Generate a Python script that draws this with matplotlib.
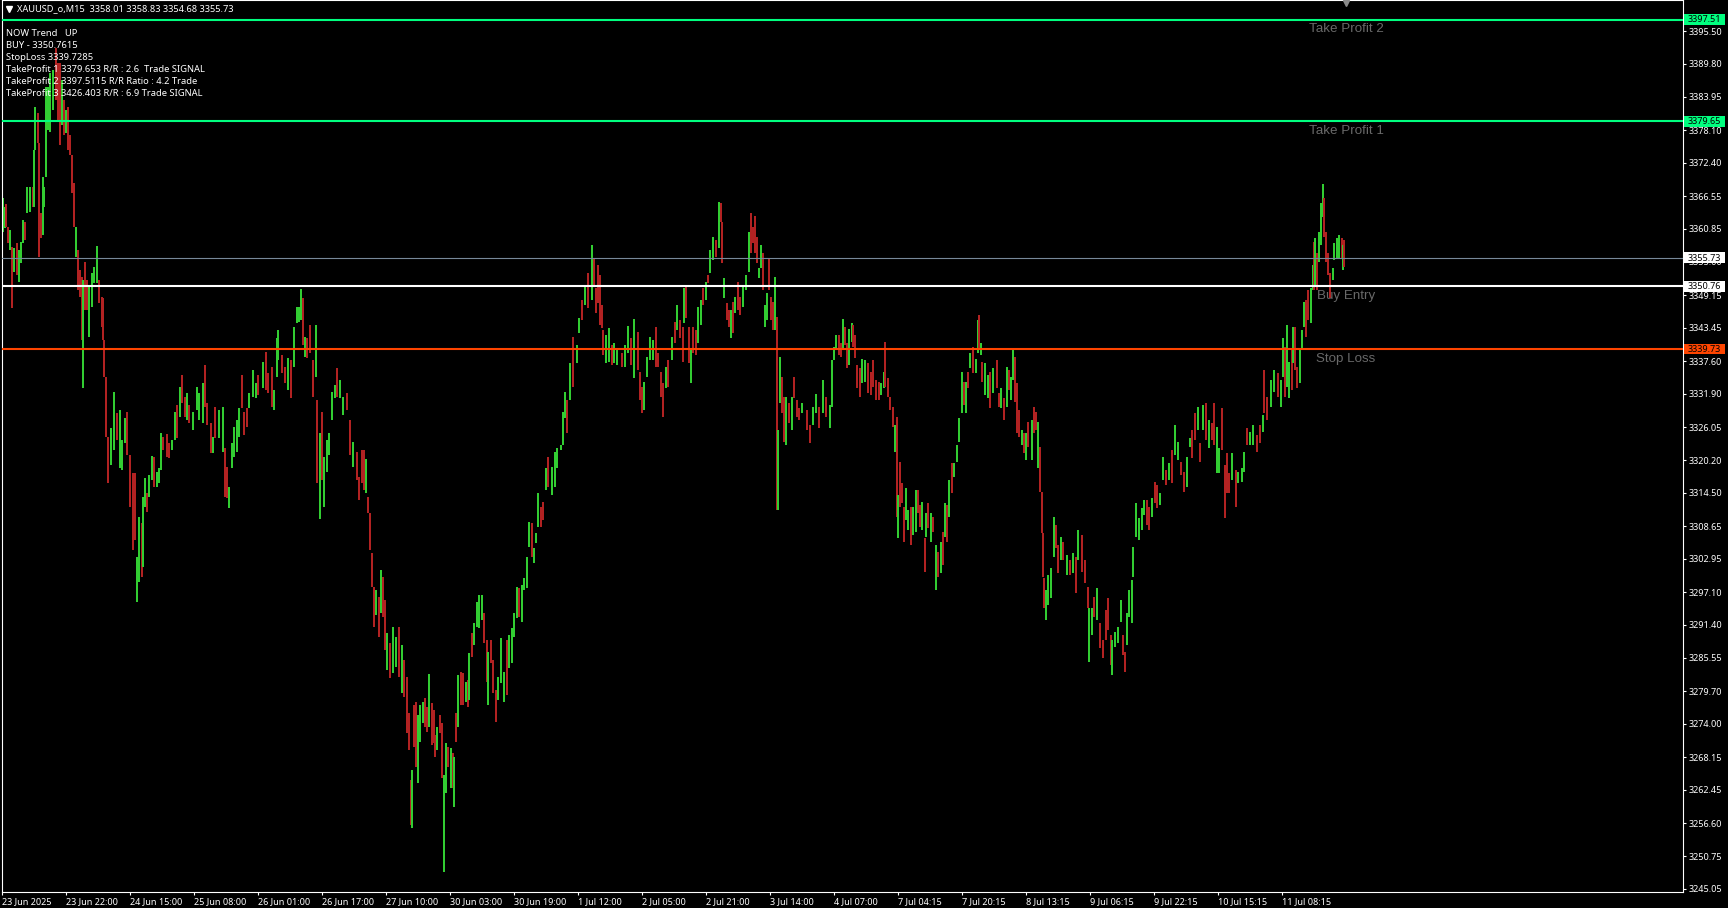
import matplotlib
matplotlib.use("Agg")
from matplotlib import pyplot as plt
from matplotlib.patches import Rectangle

plt.rcParams["font.family"] = ["Noto Sans", "DejaVu Sans"]

# bar number counted from the left edge of the chart (M15 bars)
bar_no = [
    1, 3, 4, 6, 8, 10, 12, 15, 17, 19, 21, 23, 25, 28, 31, 32, 33, 36, 37, 39,
    41, 42, 44, 46, 48, 51, 54, 56, 58, 60, 62, 64, 66, 68, 70, 72, 74, 76, 78, 80,
    81, 83, 85, 87, 90, 92, 95, 97, 100, 101, 102, 104, 106, 109, 112, 115, 118, 120, 123, 125,
    128, 131, 133, 135, 137, 140, 141, 143, 145, 147, 150, 152, 155, 157, 159, 161, 165, 167, 170, 173,
    175, 178, 180, 183, 185, 187, 191, 195, 197, 201, 203, 205, 209, 211, 213, 217, 221, 223, 225, 227,
    230, 232, 235, 237, 240, 242, 245, 247, 251, 254, 256, 261, 264, 266, 270, 272, 275, 276, 280, 283,
    286, 289, 292, 295, 297, 299, 301, 303, 305, 308, 311, 314, 315, 318, 320, 322, 325, 327, 330, 333,
    335, 338, 341, 345, 348, 351, 355, 357, 360, 362, 364, 366, 368, 370, 372, 374, 377, 379, 381, 383,
    385, 388, 391, 394, 397, 400, 402, 405, 407, 409, 410, 412, 414, 416, 418, 421, 423, 425, 427, 430,
    432, 433, 435, 438, 440, 442, 444, 446, 449, 451, 452, 454, 456, 459, 461, 464, 466, 467, 470, 472,
    475, 477, 480, 482, 485, 486, 489, 491, 494, 496, 499, 502, 505, 507, 510, 512, 515, 517, 520, 522,
    525, 527, 530, 532, 534, 536, 539, 541, 544, 546, 550, 553, 555, 559, 561, 563, 565, 568, 571, 575,
    577, 580, 583, 586, 590, 592, 594, 596, 598, 600, 601, 604, 607, 610, 612, 615, 620, 623, 626, 629,
    632, 636, 638, 640, 642, 645, 648, 651, 654, 656, 659, 661, 664, 666, 670, 673, 675, 678, 681, 682,
    684, 687, 689, 691, 694, 696, 699, 701, 704, 706, 708, 711, 714, 717, 719, 720, 722, 725, 727, 729,
    731, 733, 736, 738, 741, 744, 747, 749, 751, 753, 755, 757, 759, 761, 763, 765, 767, 769, 771, 773,
    775, 776, 778, 780, 782, 784, 787, 790, 792, 795, 797, 800, 805, 808, 811, 814, 817, 821, 824, 828,
    830, 832, 834, 837, 839, 841, 843, 845, 847, 850, 851, 853, 855, 858, 860, 863, 866, 869, 871, 874,
    877, 879, 882, 883, 886, 888, 891, 893, 895, 896, 898, 900, 902, 904, 906, 909, 911, 914, 916, 918,
    920, 923, 924, 926, 929, 931, 934, 936, 939, 941, 943, 945, 947, 950, 952, 955, 957, 960, 962, 964,
    966, 968, 971, 974, 976, 977, 979, 980, 983, 986, 988, 991, 995, 997, 999, 1002, 1005, 1007, 1009, 1011,
    1013, 1015, 1017, 1020, 1022, 1024, 1026, 1030, 1032, 1034, 1036, 1038, 1040, 1041, 1042, 1044, 1046, 1049, 1052, 1054,
    1056, 1059, 1061, 1065, 1068, 1071, 1074, 1076, 1080, 1083, 1086, 1087, 1090, 1092, 1095, 1098, 1101, 1104, 1106, 1109,
    1110, 1113, 1116, 1119, 1121, 1123, 1125, 1127, 1130, 1131, 1134, 1137, 1140, 1142, 1145, 1147, 1150, 1153, 1155, 1158,
    1161, 1164, 1167, 1170, 1173, 1176, 1179, 1182, 1185, 1188, 1190, 1193, 1196, 1198, 1201, 1204, 1207, 1210, 1212, 1215,
    1217, 1220, 1223, 1225, 1227, 1230, 1234, 1236, 1240, 1242, 1245, 1248, 1251, 1255, 1258, 1261, 1262, 1265, 1269, 1272,
    1276, 1279, 1281, 1283, 1285, 1287, 1290, 1291, 1293, 1295, 1298, 1300, 1302, 1304, 1306, 1309, 1311, 1312, 1313, 1315,
    1317, 1319, 1321, 1322, 1324, 1326, 1328, 1331, 1332, 1335, 1337, 1340, 1341, 1342,
]

highs = [
    3366.2, 3364.6, 3365.2, 3361.1, 3360.6, 3357.6, 3357.4, 3358.3, 3357.1, 3358.5, 3362.4, 3362.0, 3368.1, 3368.1, 3368.1, 3374.6, 3382.2, 3381.1, 3375.9, 3363.6,
    3369.9, 3368.1, 3385.7, 3385.7, 3388.1, 3388.7, 3392.5, 3389.9, 3389.9, 3386.9, 3383.4, 3381.7, 3382.2, 3377.3, 3373.7, 3368.8, 3361.1, 3357.1, 3353.6, 3352.4,
    3351.8, 3355.0, 3351.8, 3350.6, 3353.0, 3354.1, 3357.8, 3351.8, 3348.8, 3348.6, 3341.3, 3334.8, 3324.3, 3325.9, 3332.2, 3328.5, 3329.0, 3323.8, 3327.6, 3328.7,
    3321.1, 3318.0, 3318.0, 3303.3, 3310.3, 3309.2, 3313.8, 3317.1, 3314.5, 3317.6, 3321.0, 3320.8, 3318.2, 3318.9, 3325.0, 3324.3, 3324.8, 3323.2, 3323.8, 3328.7,
    3329.9, 3333.1, 3335.2, 3331.3, 3332.0, 3329.9, 3328.7, 3333.1, 3332.0, 3333.8, 3336.9, 3330.2, 3326.7, 3324.3, 3329.6, 3329.0, 3329.6, 3322.4, 3319.0, 3315.5,
    3323.2, 3326.0, 3327.3, 3329.4, 3335.2, 3328.7, 3329.4, 3332.0, 3336.0, 3333.8, 3335.2, 3337.4, 3339.2, 3335.5, 3336.6, 3332.5, 3341.6, 3343.1, 3338.7, 3336.6,
    3338.1, 3337.8, 3343.6, 3347.1, 3347.1, 3350.2, 3348.6, 3341.8, 3341.6, 3343.9, 3337.8, 3343.9, 3330.8, 3325.0, 3328.7, 3320.8, 3323.8, 3325.0, 3332.2, 3333.4,
    3336.4, 3334.3, 3331.3, 3332.0, 3327.3, 3323.4, 3321.7, 3317.3, 3322.0, 3322.0, 3320.4, 3313.8, 3311.0, 3304.0, 3298.0, 3297.5, 3296.2, 3301.0, 3299.8, 3295.7,
    3289.9, 3288.2, 3291.0, 3289.2, 3291.0, 3287.8, 3285.2, 3282.2, 3275.9, 3264.2, 3265.9, 3277.3, 3277.8, 3275.5, 3277.3, 3277.8, 3278.5, 3277.0, 3282.8, 3277.7,
    3276.4, 3272.1, 3273.5, 3275.5, 3274.2, 3265.0, 3270.7, 3270.0, 3269.8, 3268.9, 3268.2, 3275.9, 3282.6, 3283.1, 3282.9, 3281.3, 3281.7, 3286.4, 3289.9, 3291.7,
    3295.4, 3296.6, 3296.6, 3293.4, 3288.7, 3286.6, 3288.7, 3285.2, 3279.9, 3282.2, 3289.1, 3283.1, 3288.7, 3289.6, 3290.8, 3293.4, 3298.0, 3297.8, 3298.3, 3299.6,
    3303.3, 3309.4, 3309.2, 3304.8, 3307.5, 3314.5, 3312.0, 3312.9, 3318.9, 3320.8, 3319.0, 3321.7, 3322.4, 3322.9, 3328.7, 3332.2, 3330.8, 3337.3, 3341.8, 3340.4,
    3345.2, 3348.3, 3350.6, 3353.0, 3358.0, 3355.7, 3350.4, 3354.4, 3352.7, 3347.4, 3343.1, 3342.2, 3343.4, 3340.4, 3340.8, 3339.9, 3339.0, 3340.4, 3343.8, 3341.6,
    3345.0, 3342.7, 3335.7, 3333.1, 3333.9, 3338.3, 3341.8, 3341.3, 3343.6, 3339.0, 3335.7, 3333.8, 3336.6, 3337.8, 3341.8, 3344.5, 3347.4, 3344.8, 3343.6, 3350.4,
    3350.9, 3343.6, 3339.6, 3343.6, 3343.1, 3347.1, 3348.3, 3350.4, 3351.5, 3352.7, 3357.1, 3359.4, 3358.8, 3365.5, 3365.3, 3362.0, 3352.2, 3347.8, 3346.6, 3346.6,
    3348.0, 3348.8, 3351.5, 3348.8, 3350.6, 3352.7, 3360.2, 3363.6, 3361.1, 3363.0, 3359.4, 3353.9, 3358.0, 3356.5, 3347.4, 3349.5, 3355.7, 3348.8, 3348.0, 3352.4,
    3345.3, 3325.5, 3338.3, 3334.8, 3331.3, 3331.3, 3330.3, 3331.3, 3334.8, 3330.8, 3329.4, 3330.3, 3329.0, 3326.4, 3329.6, 3331.8, 3329.6, 3334.3, 3331.3, 3329.9,
    3337.8, 3340.1, 3342.2, 3342.2, 3340.8, 3345.0, 3343.6, 3340.8, 3343.2, 3344.3, 3343.9, 3342.2, 3336.9, 3336.4, 3338.0, 3337.8, 3337.3, 3335.7, 3337.8, 3334.3,
    3333.9, 3333.8, 3335.7, 3340.9, 3334.6, 3331.3, 3329.6, 3326.4, 3327.8, 3314.1, 3319.9, 3316.2, 3312.0, 3315.4, 3311.5, 3312.0, 3312.0, 3315.0, 3315.0, 3312.4,
    3312.9, 3306.6, 3311.0, 3312.7, 3311.0, 3310.3, 3305.4, 3304.1, 3305.9, 3307.6, 3312.7, 3312.4, 3316.8, 3319.7, 3319.7, 3322.9, 3327.6, 3335.7, 3333.9, 3333.9,
    3335.7, 3339.0, 3340.1, 3338.0, 3344.8, 3345.7, 3340.8, 3337.4, 3337.3, 3335.2, 3335.7, 3336.4, 3337.8, 3332.0, 3332.9, 3331.1, 3336.6, 3336.0, 3334.8, 3339.6,
    3338.3, 3333.8, 3329.0, 3325.5, 3325.0, 3325.0, 3326.9, 3327.3, 3329.6, 3328.7, 3326.9, 3322.5, 3314.7, 3307.5, 3299.6, 3297.5, 3300.1, 3301.3, 3310.3, 3308.9,
    3305.4, 3306.8, 3305.9, 3303.6, 3302.7, 3304.0, 3303.3, 3308.0, 3307.1, 3302.7, 3298.0, 3294.3, 3294.3, 3296.2, 3297.8, 3291.7, 3288.7, 3294.0, 3296.1, 3289.6,
    3288.7, 3290.1, 3291.0, 3295.7, 3289.6, 3286.6, 3293.4, 3297.5, 3299.2, 3305.0, 3312.7, 3310.1, 3311.8, 3313.3, 3313.3, 3312.0, 3313.6, 3316.4, 3315.9, 3314.5,
    3320.8, 3318.5, 3319.7, 3322.0, 3326.4, 3323.4, 3319.9, 3318.2, 3320.8, 3324.1, 3325.5, 3328.5, 3329.6, 3323.2, 3329.9, 3330.3, 3327.3, 3326.7, 3330.3, 3326.0,
    3322.4, 3329.4, 3319.4, 3321.5, 3318.0, 3321.5, 3318.5, 3318.2, 3318.9, 3321.7, 3325.9, 3325.2, 3326.4, 3324.6, 3326.4, 3328.1, 3336.0, 3331.3, 3334.3, 3336.0,
    3335.5, 3334.3, 3341.6, 3340.1, 3343.9, 3337.4, 3339.9, 3343.6, 3343.6, 3336.6, 3339.6, 3343.1, 3348.0, 3348.3, 3350.1, 3350.4, 3354.4, 3358.5, 3359.2, 3356.5,
    3360.2, 3365.3, 3368.6, 3366.2, 3360.2, 3356.5, 3353.0, 3353.9, 3358.3, 3359.2, 3359.7, 3359.2, 3358.0, 3358.8,
]

lows = [
    3360.3, 3360.9, 3361.1, 3358.3, 3357.1, 3346.9, 3353.2, 3352.7, 3351.5, 3354.8, 3358.3, 3358.9, 3363.6, 3363.8, 3364.6, 3364.6, 3374.6, 3375.9, 3355.9, 3359.2,
    3359.7, 3364.6, 3369.9, 3378.1, 3377.8, 3381.7, 3383.4, 3379.9, 3375.5, 3379.0, 3377.3, 3377.6, 3374.6, 3373.7, 3367.1, 3361.1, 3355.9, 3350.1, 3348.8, 3341.3,
    3332.9, 3346.6, 3346.6, 3341.8, 3347.1, 3351.3, 3351.3, 3347.8, 3343.6, 3341.3, 3334.8, 3324.3, 3316.2, 3319.4, 3322.0, 3323.8, 3318.9, 3318.5, 3323.2, 3321.1,
    3312.0, 3304.5, 3306.2, 3295.4, 3298.9, 3299.8, 3301.5, 3312.0, 3311.2, 3313.8, 3316.8, 3315.5, 3315.5, 3316.2, 3318.5, 3322.0, 3320.8, 3320.6, 3322.0, 3323.8,
    3324.1, 3327.8, 3330.2, 3327.8, 3327.3, 3326.7, 3325.5, 3329.0, 3327.3, 3326.7, 3329.6, 3326.4, 3321.5, 3321.5, 3324.1, 3324.1, 3321.7, 3313.8, 3313.6, 3311.8,
    3318.9, 3320.8, 3321.7, 3324.3, 3329.4, 3324.6, 3326.0, 3329.4, 3331.3, 3331.1, 3331.6, 3332.9, 3332.5, 3332.0, 3329.6, 3329.0, 3334.8, 3337.8, 3335.5, 3333.8,
    3332.5, 3331.1, 3336.6, 3344.3, 3344.5, 3344.8, 3340.4, 3338.3, 3338.1, 3339.0, 3331.3, 3334.8, 3316.2, 3309.9, 3316.8, 3312.0, 3318.2, 3321.1, 3327.3, 3331.1,
    3331.3, 3331.1, 3328.2, 3329.0, 3321.1, 3319.0, 3316.8, 3313.3, 3316.2, 3315.0, 3314.5, 3311.0, 3304.5, 3298.0, 3291.0, 3293.1, 3289.2, 3293.4, 3292.7, 3287.0,
    3283.4, 3282.0, 3282.9, 3284.0, 3282.2, 3279.4, 3278.7, 3272.4, 3269.4, 3256.3, 3255.8, 3270.0, 3266.4, 3263.6, 3270.8, 3274.2, 3273.5, 3272.6, 3273.5, 3270.3,
    3270.7, 3268.2, 3269.4, 3272.4, 3264.5, 3248.0, 3261.9, 3266.4, 3262.8, 3262.8, 3259.4, 3270.8, 3273.5, 3277.3, 3277.3, 3277.8, 3277.0, 3278.2, 3285.7, 3287.8,
    3291.0, 3290.8, 3292.2, 3288.2, 3281.3, 3277.3, 3284.7, 3279.4, 3274.3, 3278.2, 3281.2, 3277.8, 3279.1, 3283.8, 3284.7, 3289.2, 3292.6, 3292.7, 3291.9, 3297.5,
    3297.8, 3305.0, 3303.3, 3302.2, 3305.7, 3308.5, 3308.5, 3309.7, 3315.0, 3315.5, 3314.1, 3315.5, 3318.9, 3322.0, 3322.9, 3327.6, 3325.0, 3330.8, 3333.1, 3337.3,
    3342.5, 3344.8, 3347.4, 3346.9, 3348.3, 3350.6, 3346.0, 3347.8, 3343.9, 3343.4, 3338.7, 3337.3, 3337.4, 3336.9, 3337.3, 3336.9, 3336.6, 3336.6, 3339.0, 3336.9,
    3334.6, 3336.0, 3330.8, 3328.5, 3329.0, 3334.8, 3337.8, 3337.8, 3336.6, 3336.6, 3331.3, 3327.8, 3332.9, 3333.1, 3337.8, 3340.8, 3343.0, 3341.6, 3337.4, 3344.3,
    3345.2, 3337.3, 3333.8, 3339.0, 3338.7, 3340.8, 3343.9, 3347.4, 3348.3, 3351.3, 3353.0, 3355.3, 3355.9, 3357.4, 3362.0, 3354.8, 3348.7, 3344.8, 3343.6, 3341.6,
    3342.5, 3346.0, 3346.6, 3345.7, 3347.1, 3350.1, 3353.2, 3356.5, 3358.3, 3356.5, 3354.8, 3352.2, 3353.9, 3350.1, 3343.6, 3344.8, 3350.1, 3344.8, 3343.0, 3343.0,
    3311.5, 3311.5, 3330.3, 3328.5, 3323.4, 3322.9, 3326.7, 3325.5, 3331.1, 3327.8, 3327.3, 3328.5, 3325.5, 3323.2, 3326.4, 3328.5, 3325.9, 3328.5, 3327.8, 3325.9,
    3329.6, 3337.8, 3339.6, 3338.7, 3338.3, 3339.6, 3340.4, 3336.4, 3336.9, 3341.0, 3340.1, 3338.1, 3332.9, 3331.3, 3333.8, 3333.9, 3332.0, 3331.6, 3333.1, 3330.8,
    3330.8, 3331.6, 3332.9, 3333.1, 3331.3, 3329.0, 3326.0, 3321.7, 3310.3, 3306.6, 3312.0, 3312.7, 3305.9, 3309.7, 3308.0, 3305.4, 3307.1, 3307.6, 3311.0, 3308.5,
    3308.0, 3300.6, 3306.8, 3308.3, 3305.9, 3307.6, 3297.5, 3299.8, 3300.5, 3301.9, 3306.8, 3305.9, 3310.3, 3314.5, 3317.3, 3319.9, 3323.4, 3328.5, 3329.9, 3328.5,
    3332.9, 3336.4, 3335.5, 3335.5, 3339.0, 3339.9, 3338.7, 3333.9, 3331.6, 3331.1, 3329.4, 3332.0, 3332.9, 3329.6, 3329.4, 3327.3, 3329.6, 3332.5, 3330.8, 3334.3,
    3330.4, 3325.0, 3324.3, 3322.9, 3321.5, 3320.3, 3322.5, 3320.3, 3325.0, 3325.5, 3318.9, 3314.7, 3307.5, 3299.8, 3294.3, 3292.2, 3294.8, 3296.1, 3303.3, 3304.8,
    3300.5, 3302.7, 3302.7, 3300.1, 3300.1, 3300.5, 3297.0, 3302.7, 3300.6, 3298.7, 3294.3, 3284.9, 3289.6, 3292.7, 3292.2, 3287.3, 3285.6, 3288.7, 3290.5, 3284.3,
    3282.6, 3287.5, 3288.2, 3291.9, 3286.1, 3283.1, 3287.8, 3292.7, 3291.7, 3299.8, 3306.8, 3306.2, 3308.0, 3310.6, 3308.9, 3308.0, 3310.3, 3312.7, 3311.8, 3312.4,
    3316.8, 3315.9, 3316.8, 3316.2, 3321.1, 3320.3, 3317.6, 3314.7, 3315.5, 3322.5, 3320.6, 3323.8, 3325.5, 3319.9, 3325.5, 3323.8, 3322.4, 3323.8, 3322.9, 3318.0,
    3318.0, 3322.0, 3310.1, 3314.5, 3314.5, 3316.8, 3312.0, 3316.2, 3316.4, 3318.2, 3322.9, 3322.9, 3322.9, 3321.7, 3323.2, 3325.2, 3328.5, 3327.3, 3329.6, 3332.2,
    3331.3, 3329.6, 3334.8, 3331.3, 3333.1, 3331.1, 3332.5, 3337.3, 3336.0, 3332.9, 3333.8, 3339.6, 3343.6, 3341.8, 3344.8, 3344.3, 3350.1, 3350.1, 3350.6, 3350.1,
    3355.0, 3358.0, 3362.9, 3359.4, 3355.0, 3352.7, 3348.7, 3351.8, 3355.3, 3355.7, 3355.7, 3355.7, 3353.6, 3354.1,
]

# g = bull candle, r = bear candle
sides = (
    "ggrrgrgrgggrggrggrrr" "ggggggrrrgrgrrrrgrrr" "grrggggrrrrrrggrgggr" "rrrggrggrggrgggrrrgg"
    "rgrrgrggggrrrgrggrrg" "ggggrrrgggrgrrrgggrr" "grggggrgrrrgrgrggggg" "rggrrgrrrrgrrrrgrgrr"
    "grggrgrrrrgrrgggrrgr" "rrgrrggrgrgrgrrgrgrg" "gggrrgrrrgggrggggrgg" "ggrgggrrgrggggggrgrg"
    "grgrgrrrrrrggrggrggr" "grrrggggrrrrgrgrgrrg" "rrgrrggrgrggrgrrgrrg" "rgrrgggrrrrggrggrrrg"
    "rggrrgrgrrrgrrggrgrg" "gggrrgrrggrrrrggrrrr" "rggrrrrgrgrrrggrggrr" "grgrgrgrgrgrgrggggrg"
    "rgrggrgrggrgrrgrgrgg" "rrrgrgrgrrgrrrrggggr" "rgrgrgrgrrrggrgrrrrr" "ggggrrggggggggrrgrrg"
    "grgrggrrggrrgrgrgrrg" "grrrrgrgggrggrrgrrgg" "rggrggrgrrgggrrggrgr" "gggrrrrggggrgr"
)

price_ticks = [
    3395.50, 3389.80, 3383.95, 3378.10, 3372.40, 3366.55, 3360.85, 3355.00, 3349.15,
    3343.45, 3337.60, 3331.90, 3326.05, 3320.20, 3314.50, 3308.65, 3302.95, 3297.10,
    3291.40, 3285.55, 3279.70, 3274.00, 3268.15, 3262.45, 3256.60, 3250.75, 3245.05,
]
time_labels = [
    "23 Jun 2025", "23 Jun 22:00", "24 Jun 15:00", "25 Jun 08:00", "26 Jun 01:00",
    "26 Jun 17:00", "27 Jun 10:00", "30 Jun 03:00", "30 Jun 19:00", "1 Jul 12:00",
    "2 Jul 05:00", "2 Jul 21:00", "3 Jul 14:00", "4 Jul 07:00", "7 Jul 04:15",
    "7 Jul 20:15", "8 Jul 13:15", "9 Jul 06:15", "9 Jul 22:15", "10 Jul 15:15",
    "11 Jul 08:15",
]
info_lines = [
    "NOW Trend   UP",
    "BUY - 3350.7615",
    "StopLoss 3339.7285",
    "TakeProfit 1 3379.653 R/R : 2.6  Trade SIGNAL",
    "TakeProfit 2 3397.5115 R/R Ratio : 4.2 Trade",
    "TakeProfit 3 3426.403 R/R : 6.9 Trade SIGNAL",
]

level_prices = [3397.51, 3379.65, 3355.73, 3350.76, 3339.73]
level_colors = ["#00FF7F", "#00FF7F", "#778899", "#FFFFFF", "#FF4500"]
level_tags = ["#00FF7F", "#00FF7F", "#FFFFFF", "#FFFFFF", "#FF4500"]
level_widths = [1.5, 1.5, 0.8, 1.5, 1.5]

zone_names = ["Take Profit 2", "Take Profit 1", "Buy Entry", "Stop Loss"]
zone_prices = [3396.85, 3378.95, 3350.05, 3339.05]

fig = plt.figure(figsize=(17.28, 9.08), dpi=100, facecolor="black")
ax = fig.add_axes([2 / 1728, 16 / 908, 1680.5 / 1728, 892 / 908], facecolor="black")
ax.set_xlim(0, 1680.5)
ax.set_ylim(3244.5, 3400.94)

bar_colors = ["#32CD32" if s == "g" else "#B22222" for s in sides]
for n, hi, lo, col in zip(bar_no, highs, lows, bar_colors, strict=True):
    ax.vlines(n, lo, hi, color=col, linewidth=1.3, antialiased=False, zorder=2)

# horizontal trade levels and their price tags
tag_trans = ax.get_yaxis_transform()
for price, col, tag, width in zip(level_prices, level_colors, level_tags, level_widths):
    ax.axhline(price, color=col, linewidth=width, zorder=3)
    ax.add_patch(Rectangle((1 + 1.5 / 1680.5, price - 0.96), 41 / 1680.5, 1.92, transform=tag_trans,
                           facecolor=tag, edgecolor="none", clip_on=False, zorder=6))
    ax.text(1 + 5 / 1680.5, price - 0.05, f"{price:.2f}", transform=tag_trans, color="black",
            fontsize=6.5, ha="left", va="center", clip_on=False, zorder=7)

for name, price in zip(zone_names, zone_prices):
    ax.text(1344, price, name, color="#696969", fontsize=9.6, family="Liberation Sans",
            ha="center", va="top", zorder=5)

# top-left info block and chart caption
for i, line in enumerate(info_lines):
    ax.text(4 / 1680.5, 1 - (33.5 + 12 * i) / 892, line, transform=ax.transAxes,
            color="white", fontsize=6.75, ha="left", va="center", zorder=8)
ax.text(15 / 1680.5, 1 - 8.5 / 892, "XAUUSD_o,M15  3358.01 3358.83 3354.68 3355.73", transform=ax.transAxes,
        color="white", fontsize=6.65, ha="left", va="center", zorder=8)
ax.plot([7 / 1680.5], [1 - 8.5 / 892], marker="v", color="white", markersize=4, transform=ax.transAxes, zorder=8)
ax.plot([1344], [3400.4], marker="v", color="#8A8A8A", markersize=5, clip_on=False, zorder=8)

ax.yaxis.tick_right()
ax.set_yticks(price_ticks)
ax.set_yticklabels([f"{p:.2f}" for p in price_ticks])
ax.tick_params(axis="y", colors="white", length=2.2, width=0.8, labelsize=6.5, pad=2)
ax.set_xticks([64 * i for i in range(len(time_labels))])
ax.set_xticklabels(time_labels, ha="left")
ax.tick_params(axis="x", colors="white", length=2.2, width=0.8, labelsize=6.5, pad=1.5)
for side in ax.spines.values():
    side.set_color("white")
    side.set_linewidth(0.8)

fig.savefig("out.png", dpi=100, facecolor="black")
